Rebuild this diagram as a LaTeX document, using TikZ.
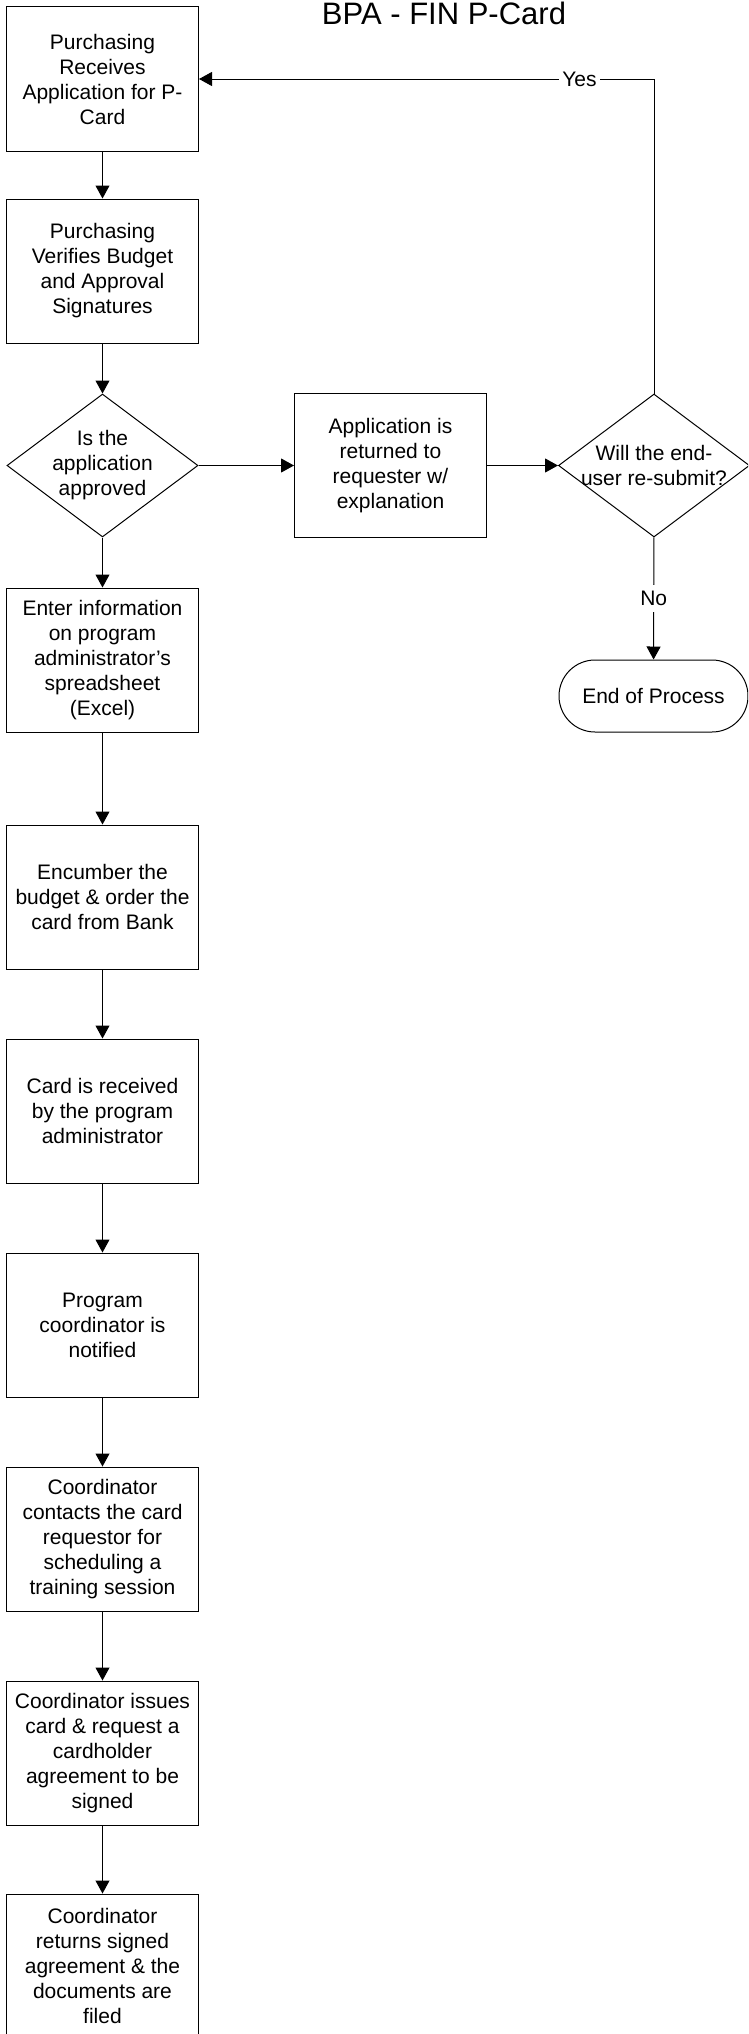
\documentclass[tikz,border=0pt]{standalone}
\usepackage{fontspec}
\setmainfont{Liberation Sans}
\usetikzlibrary{arrows.meta,shapes.geometric}
\newcommand{\BoxFont}{\fontsize{21}{25}\selectfont}

\begin{document}
\begin{tikzpicture}[x=1pt,y=-1pt,
  stepBox/.style={draw,line width=1pt,minimum width=192pt,minimum height=144pt,inner sep=0pt,align=center,font=\BoxFont},
  testBox/.style={draw,diamond,line width=1pt,minimum width=191pt,minimum height=143pt,inner sep=0pt},
  testText/.style={align=center,font=\BoxFont},
  endBox/.style={draw,line width=1pt,rounded corners=36pt,minimum width=189pt,minimum height=72pt,inner sep=0pt,font=\BoxFont},
  flowArr/.style={line width=1pt,-{Triangle[length=13pt,width=14pt]}},
  flowLbl/.style={fill=white,inner xsep=3pt,inner ysep=6pt,font=\BoxFont}]
\clip (0,0) rectangle (748,2034);

\node[anchor=base,font=\fontsize{31}{36}\selectfont] (title) at (444,25) {BPA - FIN P-Card};

\node[stepBox] (recv) at (102.5,79) {Purchasing\\Receives\\Application for P-\\Card};
\node[stepBox] (verify) at (102.5,271) {Purchasing\\Verifies Budget\\and Approval\\Signatures};
\node[testBox,label={[testText]center:Is the\\application\\approved}] (approved) at (102.5,465.5) {};
\node[stepBox] (returned) at (390.5,465.5) {Application is\\returned to\\requester w/\\explanation};
\node[testBox,label={[testText]center:Will the end-\\user re-submit?}] (resubmit) at (654,465.5) {};
\node[endBox] (endproc) at (653.5,696) {End of Process};

\node[stepBox] (enter) at (102.5,660) {Enter information\\on program\\administrator’s\\spreadsheet\\(Excel)};
\node[stepBox] (encumber) at (102.5,897) {Encumber the\\budget \& order the\\card from Bank};
\node[stepBox] (received) at (102.5,1111) {Card is received\\by the program\\administrator};
\node[stepBox] (notified) at (102.5,1325) {Program\\coordinator is\\notified};
\node[stepBox] (contact) at (102.5,1539) {Coordinator\\contacts the card\\requestor for\\scheduling a\\training session};
\node[stepBox] (issue) at (102.5,1753) {Coordinator issues\\card \& request a\\cardholder\\agreement to be\\signed};
\node[stepBox] (filed) at (102.5,1966) {Coordinator\\returns signed\\agreement \& the\\documents are\\filed};

\foreach \a/\b in {recv/verify,verify/approved,approved/enter,enter/encumber,encumber/received,received/notified,notified/contact,contact/issue,issue/filed}
  \draw[flowArr] (\a) -- (\b);

\draw[flowArr] (approved) -- (returned);
\draw[flowArr] (returned) -- (resubmit);
\draw[flowArr] (resubmit.north) |- node[flowLbl,pos=.582]{Yes} (recv.east);
\draw[flowArr] (resubmit) -- node[flowLbl]{No} (endproc);

\end{tikzpicture}
\end{document}
